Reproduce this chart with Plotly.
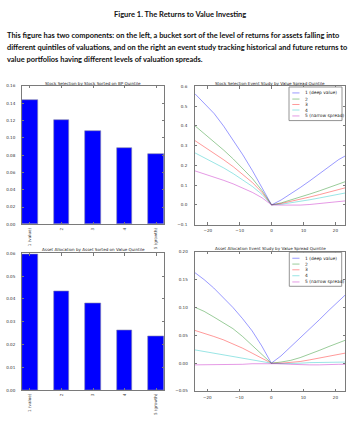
import plotly.graph_objects as go

# ---------------- data ----------------
quintiles = ["1 (value)", "2", "3", "4", "5 (growth)"]
stock_bp_returns = [0.1443, 0.1203, 0.1074, 0.0888, 0.0819]
asset_value_returns = [0.0597, 0.0432, 0.0379, 0.0262, 0.0238]

months = [-24, -21, -18, -15, -12, -9, -6, -3, 0, 3, 6, 9, 12, 15, 18, 21, 23]
spread_names = ["1 (deep value)", "2", "3", "4", "5 (narrow spread)"]

stock_event = [
    [0.562, 0.513, 0.462, 0.398, 0.328, 0.253, 0.173, 0.087, 0.0, 0.025, 0.055, 0.088, 0.122, 0.157, 0.193, 0.229, 0.247],
    [0.400, 0.360, 0.318, 0.277, 0.232, 0.185, 0.133, 0.072, 0.0, 0.010, 0.024, 0.039, 0.055, 0.071, 0.089, 0.106, 0.117],
    [0.325, 0.294, 0.262, 0.228, 0.193, 0.155, 0.113, 0.063, 0.0, 0.007, 0.017, 0.028, 0.040, 0.052, 0.064, 0.077, 0.086],
    [0.263, 0.239, 0.214, 0.187, 0.158, 0.127, 0.093, 0.053, 0.0, 0.003, 0.010, 0.018, 0.026, 0.035, 0.044, 0.054, 0.060],
    [0.172, 0.157, 0.141, 0.124, 0.106, 0.086, 0.063, 0.036, 0.0, -0.001, -0.002, -0.001, 0.002, 0.006, 0.011, 0.017, 0.020],
]
asset_event = [
    [0.163, 0.150, 0.135, 0.118, 0.100, 0.080, 0.058, 0.031, 0.0, 0.013, 0.029, 0.045, 0.061, 0.078, 0.095, 0.111, 0.122],
    [0.1007, 0.093, 0.083, 0.073, 0.062, 0.048, 0.032, 0.016, 0.0, 0.002, 0.005, 0.010, 0.016, 0.023, 0.030, 0.037, 0.041],
    [0.059, 0.054, 0.048, 0.042, 0.035, 0.027, 0.018, 0.009, 0.0, 0.0, 0.001, 0.003, 0.006, 0.009, 0.012, 0.016, 0.018],
    [0.024, 0.021, 0.019, 0.016, 0.013, 0.010, 0.007, 0.003, 0.0, -0.001, -0.001, 0.0, 0.001, 0.001, 0.002, 0.002, 0.002],
    [-0.003, -0.003, -0.003, -0.002, -0.003, -0.002, -0.001, -0.001, 0.0, -0.001, -0.002, -0.003, -0.003, -0.003, -0.002, -0.002, -0.002],
]

header_title = "Figure 1. The Returns to Value Investing"
header_lines = [
    "This figure has two components: on the left, a bucket sort of the level of returns for assets falling into",
    "different quintiles of valuations, and on the right an event study tracking historical and future returns to",
    "value portfolios having different levels of valuation spreads.",
]
titles = [
    "Stock Selection by Stock Sorted on BP Quintile",
    "Stock Selection Event Study by Value Spread Quintile",
    "Asset Allocation by Asset Sorted on Value Quintile",
    "Asset Allocation Event Study by Value Spread Quintile",
]

# ---------------- styling ----------------
W, H = 354, 423
line_colors = ["rgba(0,0,255,0.5)", "rgba(0,128,0,0.5)", "rgba(255,0,0,0.5)",
               "rgba(0,191,191,0.5)", "rgba(191,0,191,0.5)"]
TICKFONT = dict(family="DejaVu Sans", size=4.1, color="#333")
FRAME = "#7a7a7a"


def px(x):
    return x / W


def py(y):
    return 1 - y / H


fig = go.Figure()

# bar charts
fig.add_trace(go.Bar(x=quintiles, y=stock_bp_returns, width=0.5,
                     marker=dict(color="#0000ff", line=dict(color="#8888aa", width=0.6)),
                     xaxis="x", yaxis="y", showlegend=False))
fig.add_trace(go.Bar(x=quintiles, y=asset_value_returns, width=0.5,
                     marker=dict(color="#0000ff", line=dict(color="#8888aa", width=0.6)),
                     xaxis="x3", yaxis="y3", showlegend=False))

# event studies
for i, name in enumerate(spread_names):
    fig.add_trace(go.Scatter(x=months, y=stock_event[i], mode="lines", name=name,
                             line=dict(color=line_colors[i], width=0.8),
                             xaxis="x2", yaxis="y2", showlegend=False))
    fig.add_trace(go.Scatter(x=months, y=asset_event[i], mode="lines", name=name,
                             line=dict(color=line_colors[i], width=0.8),
                             xaxis="x4", yaxis="y4", showlegend=False))

common = dict(showgrid=False, zeroline=False, showline=True, linecolor=FRAME, linewidth=0.8,
              mirror="allticks", ticks="inside", ticklen=2.5, tickcolor=FRAME, tickwidth=0.6,
              tickfont=TICKFONT)

# domains (measured in pixels)
dom = {
    "tl": ([22, 164], [84, 224]),
    "tr": ([195, 345], [84.3, 224.3]),
    "bl": ([22, 164], [253.3, 391.7]),
    "br": ([194.5, 345], [251.7, 392.7]),
}


def xd(k):
    a, b = dom[k][0]
    return [px(a), px(b)]


def yd(k):
    a, b = dom[k][1]
    return [py(b), py(a)]


fig.update_layout(
    width=W, height=H, margin=dict(l=0, r=0, t=0, b=0),
    paper_bgcolor="white", plot_bgcolor="white", showlegend=False, bargap=0,
    xaxis=dict(domain=xd("tl"), anchor="y", range=[-0.25, 4.25], tickangle=-90,
               ticklabelstandoff=1, **common),
    yaxis=dict(domain=yd("tl"), anchor="x", range=[0, 0.16], dtick=0.02, tickformat=".2f",
               ticklabelstandoff=5, **common),
    xaxis2=dict(domain=xd("tr"), anchor="y2", range=[-24, 23], dtick=10, tick0=0,
                ticklabelstandoff=2, **common),
    yaxis2=dict(domain=yd("tr"), anchor="x2", range=[-0.1, 0.6], dtick=0.1, tickformat=".1f",
                ticklabelstandoff=6, **common),
    xaxis3=dict(domain=xd("bl"), anchor="y3", range=[-0.25, 4.25], tickangle=-90,
                ticklabelstandoff=1, **common),
    yaxis3=dict(domain=yd("bl"), anchor="x3", range=[0, 0.06], dtick=0.01, tickformat=".2f",
                ticklabelstandoff=5, **common),
    xaxis4=dict(domain=xd("br"), anchor="y4", range=[-24, 23], dtick=10, tick0=0,
                ticklabelstandoff=2, **common),
    yaxis4=dict(domain=yd("br"), anchor="x4", range=[-0.05, 0.20], dtick=0.05, tickformat=".2f",
                ticklabelstandoff=5, **common),
)

annotations = []
# header
annotations.append(dict(text="<b>" + header_title + "</b>", x=px(180), y=py(12),
                        xref="paper", yref="paper", showarrow=False, xanchor="center", yanchor="middle",
                        font=dict(family="Lato", size=7.5, color="#111")))
for j, (line, yy) in enumerate(zip(header_lines, [33, 45.5, 57.5])):
    annotations.append(dict(text="<b>" + line + "</b>", x=px(5), y=py(yy),
                            xref="paper", yref="paper", showarrow=False, xanchor="left", yanchor="middle",
                            font=dict(family="Lato", size=7.45, color="#111")))

# subplot titles
title_pos = [(93, 81), (270, 81), (93, 249), (270, 248.5)]
for t, (tx, ty) in zip(titles, title_pos):
    annotations.append(dict(text=t, x=px(tx), y=py(ty), xref="paper", yref="paper",
                            showarrow=False, xanchor="center", yanchor="middle",
                            font=dict(family="DejaVu Sans", size=4.1, color="#222")))

shapes = []
# manual legends (compact, like the matplotlib ones)
legend_specs = [
    dict(box=(289, 85, 342, 119), rows=[91, 97.2, 102.7, 108.3, 114.3]),
    dict(box=(289.3, 252.3, 341.7, 286.7), rows=[258.3, 264.2, 270, 276, 282.3]),
]
for spec in legend_specs:
    x0, y0, x1, y1 = spec["box"]
    shapes.append(dict(type="rect", xref="paper", yref="paper", x0=px(x0), x1=px(x1),
                       y0=py(y1), y1=py(y0), line=dict(color=FRAME, width=0.8),
                       fillcolor="white", layer="above"))
    for i, name in enumerate(spread_names):
        ry = spec["rows"][i]
        shapes.append(dict(type="line", xref="paper", yref="paper", x0=px(292.3), x1=px(299.5),
                           y0=py(ry), y1=py(ry), line=dict(color=line_colors[i], width=0.8),
                           layer="above"))
        annotations.append(dict(text=name, x=px(303), y=py(ry), xref="paper", yref="paper",
                                showarrow=False, xanchor="left", yanchor="middle",
                                font=dict(family="DejaVu Sans", size=4.4, color="#222")))

fig.update_layout(annotations=annotations, shapes=shapes)
fig.write_html("out.html")
